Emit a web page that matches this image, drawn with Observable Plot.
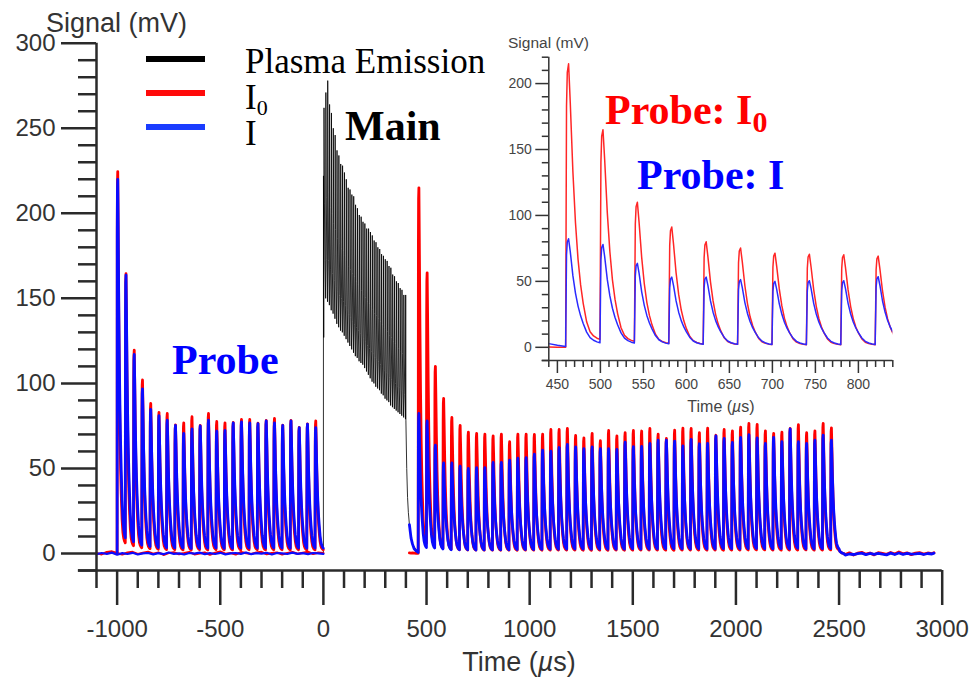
<!DOCTYPE html>
<html><head><meta charset="utf-8">
<script src="https://cdn.jsdelivr.net/npm/d3@7"></script>
<script src="https://cdn.jsdelivr.net/npm/@observablehq/plot@0.6"></script>
<style>
body{margin:0;background:#fff;}
#wrap{position:relative;width:971px;height:679px;overflow:hidden;background:#fff;}
#wrap svg{position:absolute;}
</style></head><body><div id="wrap"></div>
<script>
// ---------------- DATA ----------------
// probe pulse trains (start time of each pulse, µs) and peak heights (mV)
const preTimes = [-1000,-960,-920,-880,-840,-800,-760,-720,-680,-640,-600,-560,-520,-480,-440,-400,-360,-320,-280,-240,-200,-160,-120,-80,-40];
const preI0Peaks = [224.5,164.5,119.6,102,88.2,83,82.3,75.6,76.8,80.4,75.3,82.3,77.6,76.8,77,78.8,78.8,76.6,78.2,79.4,75.5,78.2,74.2,76.2,78];
const preIPeaks  = [220,163.7,117,96.8,84.7,81,78.4,75.3,70.6,73.3,75,78.4,72,72.4,76.8,77.4,76.8,76.4,78,76.8,75.3,78,74,76,74];
const postTimes = [460,500,540,580,620,660,700,740,780,820,860,900,940,980,1020,1060,1100,1140,1180,1220,1260,1300,1340,1380,1420,1460,1500,1540,1580,1620,1660,1700,1740,1780,1820,1860,1900,1940,1980,2020,2060,2100,2140,2180,2220,2260,2300,2340,2380,2420,2460];
const postI0Peaks = [215,165,110,91.2,80,75.3,71.4,70.6,70.2,69.2,70.2,65.7,70.2,70.2,70,70.2,72.9,72.9,73.5,69.4,68,70.6,66.3,72.3,69.2,71,72.3,72,73.5,70.2,67.6,72.5,73.7,73.5,71,73.7,69.5,72.9,72.1,74.3,76.5,75.9,72.1,70.6,71.4,73.5,75.7,71,72.1,76.5,73.9];
const postIPeaks  = [82.3,78,63.7,53.3,53.3,51.4,50,50.5,50.5,53.5,53.5,54.9,56,56.4,58.4,60.8,60.2,62.3,64.1,62.7,61.6,62.7,61.6,61.6,61.2,65.5,62.8,63,64.7,66.7,66.7,66.1,63.3,67.1,64.5,64.7,69.2,67.6,65.3,68.2,69.8,68,64.7,68.2,65.7,73.3,65.7,64.7,66.7,69.6,66.7];
// single-pulse shape (time after pulse start, fraction of peak)
const shapeDt     = [0.6, 1.5, 3, 5, 8, 11, 14, 17, 20, 24, 28, 32, 36, 39.5];
const shapeI0Frac = [0.85, 0.97, 1.0, 0.86, 0.62, 0.44, 0.31, 0.22, 0.155, 0.09, 0.055, 0.04, 0.032, 0.028];
const shapeIFrac  = [0.85, 0.97, 1.0, 0.88, 0.66, 0.5, 0.38, 0.29, 0.22, 0.14, 0.09, 0.065, 0.05, 0.042];
const lastTailDt   = [44, 50, 56, 62];
const lastTailFrac = [0.018, 0.009, 0.003, 0];
// lead-in before the post-main pulses
const postLeadT  = [417, 425, 432, 440, 450, 459.6];
const postLeadI  = [17, 9, 5.5, 2.8, 1.5, 0.6];
const postLeadI0 = [0.3, 0.2, 0.3, 0.2, 0.1, 0.1];
// baseline noise (mV)
const preNoiseT  = [-1100,-1075,-1050,-1025,-1000,-975,-950,-925,-900,-875,-850,-825,-800,-775,-750,-725,-700,-675,-650,-625,-600,-575,-550,-525,-500,-475,-450,-425,-400,-375,-350,-325,-300,-275,-250,-225,-200,-175,-150,-125,-100,-75,-50,-25,0];
const preNoiseI0 = [0.3,-0.5,0.8,1.2,0.2,-0.6,0.5,0.9,-0.3,0.4,1.0,-0.2,0.6,-0.8,0.3,0.7,-0.4,0.2,0.9,-0.5,0.1,0.6,-0.7,0.4,1.1,-0.2,0.3,-0.6,0.8,0.2,-0.3,0.5,0.9,-0.4,0.2,0.6,-0.5,0.3,0.8,-0.2,0.4,1.0,-0.3,0.5,0.2];
const preNoiseI  = [-0.4,0.3,-0.2,0.5,-0.7,0.2,-0.3,0.4,-0.6,0.1,0.3,-0.5,0.2,-0.4,0.6,-0.2,0.1,-0.6,0.3,-0.1,0.5,-0.4,0.2,-0.3,0.4,-0.5,0.1,0.3,-0.2,0.6,-0.4,0.2,-0.1,0.4,-0.6,0.3,0.1,-0.3,0.5,-0.2,0.2,-0.4,0.3,0.1,-0.2];
const postNoiseT  = [2530,2550,2570,2590,2610,2630,2650,2670,2690,2710,2730,2750,2770,2790,2810,2830,2850,2870,2890,2910,2930,2950,2960];
const postNoiseI0 = [-0.6,0.4,-0.9,0.2,0.7,-0.4,0.3,-0.8,0.5,0.1,-0.5,0.6,-0.3,0.9,-0.2,0.4,-0.7,0.2,0.5,-0.4,0.3,-0.1,0.4];
const postNoiseI  = [-0.9,-0.3,-0.6,-0.1,0.2,-0.7,0.0,-0.5,0.1,-0.4,-0.8,0.2,-0.6,0.3,-0.5,0.0,-0.4,-0.2,0.1,-0.6,0.0,-0.3,0.2];
// plasma emission: fast oscillation between an upper and lower level
const emStartT = [-3, 0, 0.4, 1.6];
const emStartV = [0, 0, 222, 127];
const emTopT = [3,12,21,30,39,48,57,66,75,84,93,102,111,120,129,138,147,156,165,174,183,192,201,210,219,228,237,246,255,264,273,282,291,300,309,318,327,336,345,354,363,372,381,390,399];
const emTop = [262,271,278,264,259,250,246,237,234,229,228,224,220,215,214,211,210,205,203,199,198,195,194,191,191,189,187,184,183,180,179,176,175,173,172,169,168,164,163,160,159,156,155,152,152];
const emBottom = [150,148,146,143,141,138,135,133,131,130,128,126,124,122,120,118,116,115,113,112,111,109,107,105,103,101,100,98,97,96,94,93,91,90,89,87,86,85,84,83,82,81,80,79];
const emCycleDt   = [2, 4.5, 8];
const emCycleFrac = [0.5, 0.2, 0];
const emTailT = [400, 404, 408, 412, 417, 425, 435, 450, 460];
const emTailV = [78, 50, 33, 24, 17, 9, 5, 2, 1];
// axes
const xMajor = [-1000,-500,0,500,1000,1500,2000,2500,3000];
const xMinor = [-1100,-900,-800,-700,-600,-400,-300,-200,-100,100,200,300,400,600,700,800,900,1100,1200,1300,1400,1600,1700,1800,1900,2100,2200,2300,2400,2600,2700,2800,2900];
const yMajor = [0,50,100,150,200,250,300];
const yMinor = [-10,10,20,30,40,60,70,80,90,110,120,130,140,160,170,180,190,210,220,230,240,260,270,280,290];
const inXMajor = [450,500,550,600,650,700,750,800];
const inXMinor = [440,460,470,480,490,510,520,530,540,560,570,580,590,610,620,630,640,660,670,680,690,710,720,730,740,760,770,780,790,810,820,830,840];
const inYMajor = [0,50,100,150,200];
const inYMinor = [-10,10,20,30,40,60,70,80,90,110,120,130,140,160,170,180,190,210,220];

// ---------------- BUILD SERIES ----------------
function zip(ts, vs){ return ts.map((t,i)=>({t, v: vs[i]})); }
function train(lead, times, peaks, fracs, withTail){
  const pts = lead.slice();
  times.forEach((t0,k)=>shapeDt.forEach((dt,i)=>pts.push({t:t0+dt, v:peaks[k]*fracs[i]})));
  if (withTail){ const L=times.length-1; lastTailDt.forEach((dt,i)=>pts.push({t:times[L]+dt, v:peaks[L]*lastTailFrac[i]})); }
  return pts;
}
const preI0 = train([{t:-1000,v:0.2}], preTimes, preI0Peaks, shapeI0Frac, false);
const preI  = train([{t:-1000,v:0}], preTimes, preIPeaks, shapeIFrac, false);
const postI0 = train(zip(postLeadT, postLeadI0), postTimes, postI0Peaks, shapeI0Frac, true).concat(zip(postNoiseT, postNoiseI0));
const postI  = train(zip(postLeadT, postLeadI), postTimes, postIPeaks, shapeIFrac, true).concat(zip(postNoiseT, postNoiseI));
const emission = zip(emStartT, emStartV);
emTopT.forEach((t,i)=>{
  emission.push({t, v: emTop[i]});
  if (i < emBottom.length) emCycleDt.forEach((dt,j)=>emission.push({t:t+dt, v: emBottom[i] + emCycleFrac[j]*(emTop[i]-emBottom[i])}));
});
zip(emTailT, emTailV).forEach(p=>emission.push(p));

const RED = "#ff0000", BLUE = "#0a0aff", AX = "#2a2a2a";
const sans = "'Liberation Sans', Arial, Helvetica, sans-serif";
const lineOpts = {x:"t", y:"v", strokeWidth: 2.8, strokeLinejoin:"round"};

const main = Plot.plot({
  width: 971, height: 679,
  marginLeft: 96, marginRight: 29.3, marginTop: 42.7, marginBottom: 109,
  x: {domain: [-1100, 3000]},
  y: {domain: [-10, 300]},
  style: {fontFamily: sans, fontSize: "24px", color: "#333", background: "transparent"},
  marks: [
    Plot.line(emission, {x:"t", y:"v", stroke:"#000", strokeWidth: 0.9, strokeOpacity: 0.9}),
    Plot.line(zip(preNoiseT, preNoiseI0), {...lineOpts, stroke: RED, strokeWidth: 2.2}),
    Plot.line(zip(preNoiseT, preNoiseI), {...lineOpts, stroke: BLUE, strokeWidth: 2.2}),
    Plot.line(preI0, {...lineOpts, stroke: RED}),
    Plot.line(postI0, {...lineOpts, stroke: RED}),
    Plot.line(preI, {...lineOpts, stroke: BLUE}),
    Plot.line(postI, {...lineOpts, stroke: BLUE}),
    Plot.axisX(xMinor, {tickSize: 18, tickFormat: () => "", label: null, stroke: AX, strokeWidth: 2.5}),
    Plot.axisX(xMajor, {tickSize: 35, tickPadding: 14, tickFormat: d => String(d), label: null, stroke: AX, strokeWidth: 2.5, fill: "#333"}),
    Plot.axisY(yMinor, {tickSize: 18, tickFormat: () => "", label: null, stroke: AX, strokeWidth: 2.5}),
    Plot.axisY(yMajor, {tickSize: 35, tickPadding: 6, tickFormat: d => String(d), label: null, stroke: AX, strokeWidth: 2.5, fill: "#333"}),
    Plot.ruleX([-1100], {y1: -10, y2: 300, stroke: AX, strokeWidth: 2.5}),
    Plot.ruleY([-10], {x1: -1188, x2: 3000, stroke: AX, strokeWidth: 2.5})
  ]
});
main.style.left = "0px"; main.style.top = "0px";

const inLine = {x:"t", y:"v", strokeWidth: 1.5, clip: true, strokeLinejoin:"round"};
const inAX = "#333";
const inset = Plot.plot({
  width: 420, height: 420,
  marginLeft: 58.3, marginRight: 17.7, marginTop: 36.7, marginBottom: 80,
  x: {domain: [440, 840]},
  y: {domain: [-10, 220]},
  style: {fontFamily: sans, fontSize: "14px", color: "#444", background: "transparent"},
  marks: [
    Plot.line(postI0, {...inLine, stroke: "#ff2626"}),
    Plot.line(postI, {...inLine, stroke: "#2a2aff"}),
    Plot.axisX(inXMinor, {tickSize: 7, tickFormat: () => "", label: null, stroke: inAX, strokeWidth: 1.5}),
    Plot.axisX(inXMajor, {tickSize: 13, tickPadding: 6, label: null, stroke: inAX, strokeWidth: 1.5, fill: "#444"}),
    Plot.axisY(inYMinor, {tickSize: 6.5, tickFormat: () => "", label: null, stroke: inAX, strokeWidth: 1.5}),
    Plot.axisY(inYMajor, {tickSize: 13, tickPadding: 4, label: null, stroke: inAX, strokeWidth: 1.5, fill: "#444"}),
    Plot.ruleX([440], {y1: -10, y2: 220, stroke: inAX, strokeWidth: 1.5}),
    Plot.ruleY([-10], {x1: 432.3, x2: 840, stroke: inAX, strokeWidth: 1.5})
  ]
});
inset.style.left = "490px"; inset.style.top = "20px";

const wrap = document.getElementById("wrap");
wrap.appendChild(main);
wrap.appendChild(inset);

// ---------------- TEXT / LEGEND OVERLAY ----------------
const ov = d3.create("svg").attr("width", 971).attr("height", 679).style("left","0px").style("top","0px");
const serif = "'Liberation Serif', 'Times New Roman', Times, serif";
function txt(x, y, s, o){
  const t = ov.append("text").attr("x", x).attr("y", y).attr("font-family", o.family || sans)
    .attr("font-size", o.size).attr("fill", o.fill || "#000").attr("font-weight", o.weight || "normal")
    .attr("text-anchor", o.anchor || "start");
  return t;
}
// axis titles
txt(46, 32, "", {size: 27, fill:"#333"}).text("Signal (mV)");
const tm = txt(519, 671, "", {size: 27, fill:"#333", anchor:"middle"});
tm.append("tspan").text("Time (");
tm.append("tspan").attr("font-style","italic").text("µ");
tm.append("tspan").text("s)");
txt(508, 48, "", {size: 15.5, fill:"#444"}).text("Signal (mV)");
const tm2 = txt(721, 412, "", {size: 16, fill:"#444", anchor:"middle"});
tm2.append("tspan").text("Time (");
tm2.append("tspan").attr("font-style","italic").text("µ");
tm2.append("tspan").text("s)");
// legend
const legend = [["#000000", 59], ["#ff0a0a", 93], ["#1a3cff", 127]];
legend.forEach(([c, y]) => ov.append("line").attr("x1",146).attr("x2",205).attr("y1",y).attr("y2",y).attr("stroke",c).attr("stroke-width",6));
txt(245, 73, "", {family: serif, size: 35}).text("Plasma Emission");
const l2 = txt(245, 109, "", {family: serif, size: 35});
l2.append("tspan").text("I");
l2.append("tspan").attr("font-size", 22).attr("dy", 6).text("0");
txt(245, 145, "", {family: serif, size: 35}).text("I");
// annotations
txt(345, 140, "", {family: serif, size: 42, weight: "bold"}).text("Main");
txt(172, 374, "", {family: serif, size: 42, weight: "bold", fill: "#0000ff"}).text("Probe");
const p0 = txt(605, 124, "", {family: serif, size: 42, weight: "bold", fill: "#ff0000"});
p0.append("tspan").text("Probe: I");
p0.append("tspan").attr("font-size", 30).attr("dy", 8).text("0");
txt(637, 189, "", {family: serif, size: 42, weight: "bold", fill: "#0000ff"}).text("Probe: I");
wrap.appendChild(ov.node());
</script></body></html>
